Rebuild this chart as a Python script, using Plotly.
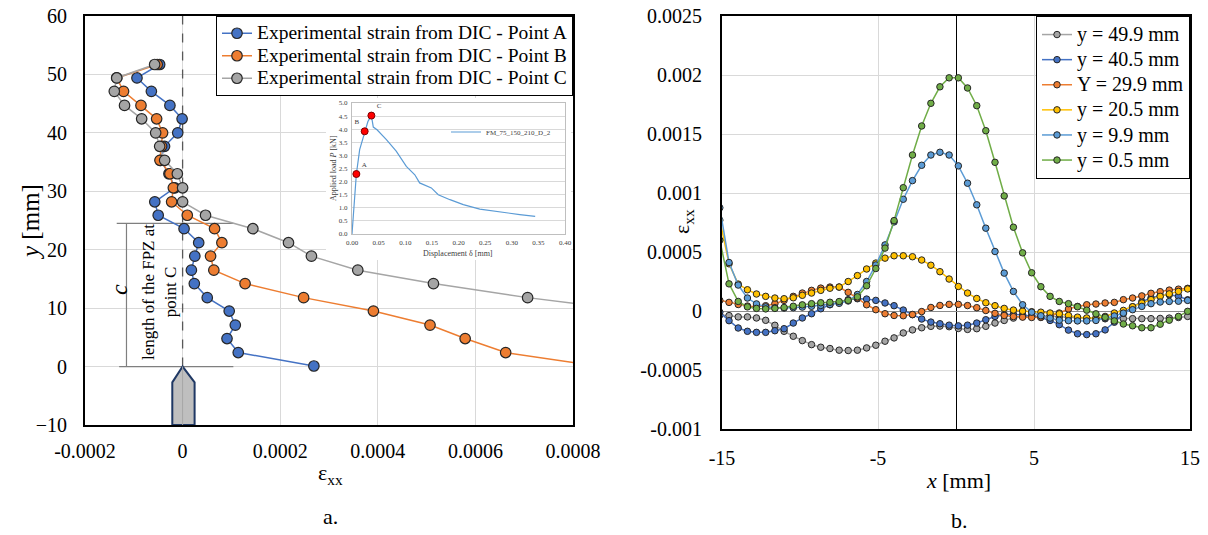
import plotly.graph_objects as go

W, H = 1208, 535
def px(x):
    return x / W
def py(y):
    return 1 - y / H

FONT = "Liberation Serif"

# ---------------- left chart (a.) ----------------
fpz_y = [51.7, 49.4, 47.1, 44.7, 42.4, 40.0, 37.7, 35.3, 33.0, 30.6, 28.2, 25.9,
         23.6, 21.2, 18.9, 16.5, 14.2, 11.8, 9.5, 7.1, 4.8, 2.4, 0.1]
strain_A = [-0.47e-4, -0.935e-4, -0.64e-4, -0.26e-4, -0.01e-4, -0.10e-4, -0.37e-4, -0.45e-4,
            -0.28e-4, -0.16e-4, -0.57e-4, -0.50e-4, 0.03e-4, 0.33e-4, 0.25e-4, 0.18e-4,
            0.24e-4, 0.505e-4, 0.955e-4, 1.08e-4, 0.91e-4, 1.14e-4, 2.69e-4]
strain_B = [-0.52e-4, -1.35e-4, -1.21e-4, -0.853e-4, -0.532e-4, -0.41e-4, -0.43e-4, -0.464e-4,
            -0.26e-4, -0.19e-4, -0.225e-4, 0.096e-4, 0.655e-4, 0.805e-4, 0.573e-4, 0.64e-4,
            1.28e-4, 2.48e-4, 3.91e-4, 5.07e-4, 5.79e-4, 6.62e-4, 8.5e-4]
strain_C = [-0.573e-4, -1.35e-4, -1.40e-4, -1.19e-4, -0.839e-4, -0.552e-4, -0.47e-4, -0.368e-4,
            -0.108e-4, 0.0, 0.0, 0.47e-4, 1.44e-4, 2.17e-4, 2.64e-4, 3.59e-4,
            5.14e-4, 7.07e-4, 9.3e-4]
left_names = ["Experimental strain from DIC - Point A",
              "Experimental strain from DIC - Point B",
              "Experimental strain from DIC - Point C"]
left_xticks = [-0.0002, 0, 0.0002, 0.0004, 0.0006, 0.0008]
left_xtext = ["-0.0002", "0", "0.0002", "0.0004", "0.0006", "0.0008"]
left_yticks = [-10, 0, 10, 20, 30, 40, 50, 60]

# ---------------- inset (load-displacement) ----------------
disp = [0, 0.0082, 0.0144, 0.0238, 0.030, 0.0364, 0.038, 0.040, 0.047, 0.0646, 0.083,
        0.102, 0.118, 0.127, 0.149, 0.162, 0.184, 0.209, 0.24, 0.278, 0.315, 0.344]
load = [0, 2.29, 3.22, 3.92, 4.30, 4.52, 4.25, 4.08, 3.98, 3.6, 3.16,
        2.58, 2.26, 1.95, 1.76, 1.5, 1.31, 1.12, 0.95, 0.83, 0.74, 0.67]
pt_disp = [0.0082, 0.0238, 0.0364]
pt_load = [2.29, 3.92, 4.52]
pt_lab = ["A", "B", "C"]

# ---------------- right chart (b.) ----------------
x_mm = [-15.14, -14.55, -13.96, -13.37, -12.79, -12.20, -11.61, -11.02, -10.43, -9.85,
        -9.26, -8.67, -8.08, -7.49, -6.91, -6.32, -5.73, -5.14, -4.55, -3.97,
        -3.38, -2.79, -2.20, -1.61, -1.03, -0.44, 0.15, 0.74, 1.33, 1.91,
        2.50, 3.09, 3.68, 4.27, 4.85, 5.44, 6.03, 6.62, 7.21, 7.79,
        8.38, 8.97, 9.56, 10.15, 10.73, 11.32, 11.91, 12.50, 13.09, 13.67,
        14.26, 14.85]
# strain values in units of 1e-4
eps_499 = [-0.35, -0.39, -0.5, -0.5, -0.59, -0.79, -1.21, -1.72, -2.14, -2.51,
           -2.85, -3.07, -3.18, -3.32, -3.35, -3.32, -3.13, -2.90, -2.56, -2.28,
           -1.86, -1.6, -1.42, -1.30, -1.28, -1.33, -1.48, -1.56, -1.50, -1.30,
           -1.02, -0.80, -0.6, -0.47, -0.42, -0.42, -0.45, -0.5, -0.55, -0.6,
           -0.63, -0.65, -0.66, -0.66, -0.65, -0.65, -0.65, -0.65, -0.63, -0.6,
           -0.55, -0.46]
eps_405 = [-0.1, -0.82, -1.44, -1.72, -1.81, -1.81, -1.67, -1.5, -1.02, -0.59,
           -0.23, 0.19, 0.53, 0.73, 0.96, 1.04, 1.01, 0.9, 0.68, 0.45,
           0.08, -0.31, -0.68, -0.94, -1.08, -1.2, -1.26, -1.2, -1.02, -0.74,
           -0.46, -0.31, -0.28, -0.33, -0.42, -0.55, -0.8, -1.16, -1.62, -1.93,
           -2.0, -1.93, -1.6, -0.95, -0.2, 0.35, 0.78, 1.1, 1.3, 1.38,
           1.25, 0.95]
eps_299 = [0.9, 0.73, 0.55, 0.42, 0.37, 0.45, 0.62, 0.9, 1.24, 1.52,
           1.75, 1.94, 2.03, 2.03, 1.58, 1.1, 0.53, 0.11, -0.23, -0.38,
           -0.4, -0.3, -0.05, 0.3, 0.47, 0.56, 0.56, 0.46, 0.28, 0.04,
           -0.2, -0.38, -0.47, -0.52, -0.55, -0.52, -0.42, -0.17, 0.17, 0.39,
           0.53, 0.59, 0.68, 0.73, 0.96, 1.1, 1.28, 1.5, 1.64, 1.77,
           1.85, 1.92]
eps_205 = [7.7, 4.0, 2.28, 1.8, 1.44, 1.24, 1.1, 1.04, 1.12, 1.33,
           1.52, 1.75, 1.93, 2.03, 2.5, 3.0, 3.56, 4.06, 4.48, 4.68,
           4.68, 4.6, 4.32, 3.88, 3.33, 2.71, 2.08, 1.52, 1.06, 0.7,
           0.45, 0.22, 0.08, -0.01, -0.06, -0.1, -0.17, -0.24, -0.38, -0.52,
           -0.59, -0.59, -0.46, -0.17, 0.05, 0.36, 0.68, 0.96, 1.24, 1.45,
           1.66, 1.87]
eps_99 = [8.75, 4.11, 2.2, 1.1, 0.6, 0.35, 0.28, 0.25, 0.28, 0.33,
          0.4, 0.47, 0.55, 0.65, 0.85, 1.4, 2.5, 3.9, 5.6, 7.55,
          9.47, 11.05, 12.35, 13.22, 13.45, 13.22, 12.3, 10.83, 9.0, 7.02,
          5.04, 3.21, 1.66, 0.53, -0.1, -0.4, -0.6, -0.78, -0.82, -0.84,
          -0.84, -0.8, -0.62, -0.42, -0.18, 0.11, 0.39, 0.62, 0.76, 0.81,
          0.83, 0.9]
eps_05 = [6.0, 2.3, 0.81, 0.35, 0.22, 0.18, 0.22, 0.3, 0.4, 0.52,
          0.62, 0.7, 0.74, 0.8, 0.9, 1.2, 2.14, 3.6, 5.33, 7.66,
          10.45, 13.22, 15.68, 17.6, 19.0, 19.76, 19.76, 18.9, 17.4, 15.28,
          12.6, 9.75, 7.1, 4.93, 3.24, 2.06, 1.24, 0.81, 0.62, 0.36,
          0.07, -0.24, -0.54, -0.84, -1.1, -1.25, -1.42, -1.42, -1.12, -0.78,
          -0.46, -0.03]
right_names = ["y = 49.9 mm", "y = 40.5 mm", "Y = 29.9 mm", "y = 20.5 mm", "y = 9.9 mm", "y = 0.5 mm"]
right_vals = [eps_499, eps_405, eps_299, eps_205, eps_99, eps_05]
right_colors = ["#A5A5A5", "#4472C4", "#ED7D31", "#FFC000", "#5B9BD5", "#70AD47"]
right_yticks = [-0.001, -0.0005, 0, 0.0005, 0.001, 0.0015, 0.002, 0.0025]
right_ytext = ["-0.001", "-0.0005", "0", "0.0005", "0.001", "0.0015", "0.002", "0.0025"]
right_xticks = [-15, -5, 5, 15]

fig = go.Figure()

# left traces
for name, xs, col in zip(left_names, [strain_A, strain_B, strain_C],
                         ["#4472C4", "#ED7D31", "#A5A5A5"]):
    fig.add_trace(go.Scatter(x=xs, y=fpz_y[:len(xs)], mode="lines+markers",
                             name='<span style="font-size:19.5px">' + name + '</span>',
                             line=dict(color=col, width=1.5),
                             marker=dict(size=10.5, color=col, line=dict(color="#262626", width=1.2)),
                             xaxis="x", yaxis="y", legend="legend"))

# right traces
for name, vals, col in zip(right_names, right_vals, right_colors):
    fig.add_trace(go.Scatter(x=x_mm, y=[v * 1e-4 for v in vals], mode="lines+markers",
                             name='<span style="font-size:20px">' + name + '</span>',
                             line=dict(color=col, width=1.5),
                             marker=dict(size=6.5, color=col, line=dict(color="#262626", width=1)),
                             xaxis="x2", yaxis="y2", legend="legend2"))

# blank white box behind inset
fig.add_trace(go.Scatter(x=[], y=[], xaxis="x3", yaxis="y3", showlegend=False))

# inset traces
fig.add_trace(go.Scatter(x=disp, y=load, mode="lines", name="FM_75_150_210_D_2",
                         line=dict(color="#5B9BD5", width=1.2), xaxis="x4", yaxis="y4",
                         legend="legend3"))
fig.add_trace(go.Scatter(x=pt_disp, y=pt_load, mode="markers+text", text=pt_lab,
                         textposition=["top right", "top left", "top right"],
                         textfont=dict(family=FONT, size=7, color="#404040"),
                         marker=dict(size=7, color="#FF0000", line=dict(color="#7f0000", width=1)),
                         xaxis="x4", yaxis="y4", showlegend=False))

axis_common = dict(showline=True, linecolor="black", mirror=True, ticks="",
                   zeroline=False, gridcolor="#D9D9D9", gridwidth=1,
                   tickfont=dict(family=FONT, size=20, color="black"))

fig.update_layout(
    width=W, height=H, autosize=False,
    margin=dict(l=0, r=0, t=0, b=0),
    paper_bgcolor="white", plot_bgcolor="white",
    template="none",
    font=dict(family=FONT, color="black"),
    xaxis=dict(domain=[px(85), px(573)], range=[-0.0002, 0.0008], tickvals=left_xticks,
               ticktext=left_xtext, anchor="y", linewidth=2, ticklabelstandoff=7, **axis_common),
    yaxis=dict(domain=[py(425), py(16)], range=[-10, 60], tickvals=left_yticks,
               anchor="x", linewidth=2, ticklabelstandoff=12, **axis_common),
    xaxis2=dict(domain=[px(722), px(1190)], range=[-15, 15], tickvals=right_xticks,
                ticktext=["-15", "-5", "5", "15"], anchor="y2", linewidth=2,
                ticklabelstandoff=10, showline=True, linecolor="black", mirror=True, ticks="",
                zeroline=True, zerolinecolor="black", zerolinewidth=1,
                gridcolor="#D9D9D9", tickfont=dict(family=FONT, size=20, color="black")),
    yaxis2=dict(domain=[py(429), py(16)], range=[-0.001, 0.0025], tickvals=right_yticks,
                ticktext=right_ytext, anchor="x2", linewidth=2, ticklabelstandoff=14,
                showline=True, linecolor="black", mirror=True, ticks="",
                zeroline=True, zerolinecolor="#8C8C8C", zerolinewidth=1,
                gridcolor="#D9D9D9", tickfont=dict(family=FONT, size=20, color="black")),
    xaxis3=dict(domain=[px(326), px(571)], range=[0, 1], visible=False, anchor="y3"),
    yaxis3=dict(domain=[py(260), py(98)], range=[0, 1], visible=False, anchor="x3"),
    xaxis4=dict(domain=[px(352), px(565)], range=[0, 0.4], dtick=0.05, tickformat=".2f",
                anchor="y4", showline=True, linecolor="#BFBFBF", mirror=True, ticks="",
                showgrid=False, zeroline=False, ticklabelstandoff=2,
                tickfont=dict(family=FONT, size=7, color="#404040")),
    yaxis4=dict(domain=[py(234), py(103)], range=[0, 5], dtick=0.5, tickformat=".1f",
                anchor="x4", showline=True, linecolor="#BFBFBF", mirror=True, ticks="",
                showgrid=True, gridcolor="#D9D9D9", zeroline=False, ticklabelstandoff=2,
                tickfont=dict(family=FONT, size=7, color="#404040")),
    legend=dict(x=px(573), y=py(16), xanchor="right", yanchor="top",
                bgcolor="white", bordercolor="black", borderwidth=1,
                font=dict(family=FONT, size=15, color="black"), tracegroupgap=0,
                itemwidth=30),
    legend2=dict(x=px(1036), y=py(16), xanchor="left", yanchor="top",
                 bgcolor="white", bordercolor="black", borderwidth=1,
                 font=dict(family=FONT, size=17, color="black"), tracegroupgap=0,
                 itemwidth=30),
    legend3=dict(x=px(446), y=py(132), xanchor="left", yanchor="middle",
                 bgcolor="rgba(0,0,0,0)", borderwidth=0,
                 font=dict(family=FONT, size=7, color="#404040"), itemwidth=30),
    showlegend=True,
)

# decorations on left chart
shapes = [
    dict(type="line", xref="x", yref="y", x0=0, x1=0, y0=0, y1=60,
         line=dict(color="#595959", width=1.3, dash="dash"), layer="between"),
    dict(type="line", xref="x", yref="y", x0=-0.000135, x1=0.000104, y0=24.5, y1=24.5,
         line=dict(color="#7F7F7F", width=1.2), layer="between"),
    dict(type="line", xref="x", yref="y", x0=-0.00013, x1=0.000104, y0=0, y1=0,
         line=dict(color="#7F7F7F", width=1.2), layer="between"),
    dict(type="line", xref="x", yref="y", x0=-0.000115, x1=-0.000115, y0=0, y1=24.5,
         line=dict(color="#7F7F7F", width=1.2), layer="between"),
    dict(type="path", xref="x", yref="y",
         path="M -0.0000211,-10 L -0.0000211,-2.7 L 0,0 L 0.0000246,-2.7 L 0.0000246,-10 Z",
         fillcolor="#BFBFBF", line=dict(color="#1F3864", width=2), layer="above"),
    dict(type="line", xref="x", yref="y", x0=0, x1=0, y0=-10, y1=0,
         line=dict(color="#A6A6A6", width=1), layer="above"),
]
fig.update_layout(shapes=shapes)

ann = [
    dict(x=px(119), y=py(290), text="<i>c</i>", textangle=-90, font=dict(size=24)),
    dict(x=px(159), y=py(292), text="length of the FPZ at<br>point C", textangle=-90,
         font=dict(size=17)),
    dict(x=px(30), y=py(222), text="<i>y</i> [mm]", textangle=-90, font=dict(size=25)),
    dict(x=px(330), y=py(474), text="ε<sub>xx</sub>", font=dict(size=22)),
    dict(x=px(683), y=py(222), text="ε<sub>xx</sub>", textangle=-90, font=dict(size=22)),
    dict(x=px(958), y=py(480), text="<i>x</i> [mm]", font=dict(size=22)),
    dict(x=px(330), y=py(516), text="a.", font=dict(size=22)),
    dict(x=px(960), y=py(520), text="b.", font=dict(size=22)),
    dict(x=px(333), y=py(168), text="Applied load <i>P</i> [kN]", textangle=-90,
         font=dict(size=8, color="#404040")),
    dict(x=px(458), y=py(253), text="Displacement δ [mm]", font=dict(size=8, color="#404040")),
]
for a in ann:
    a.update(xref="paper", yref="paper", showarrow=False, xanchor="center", yanchor="middle")
    a["font"] = dict(family=FONT, color=a["font"].get("color", "black"), size=a["font"]["size"])
fig.update_layout(annotations=ann)

fig.write_html("out.html")
